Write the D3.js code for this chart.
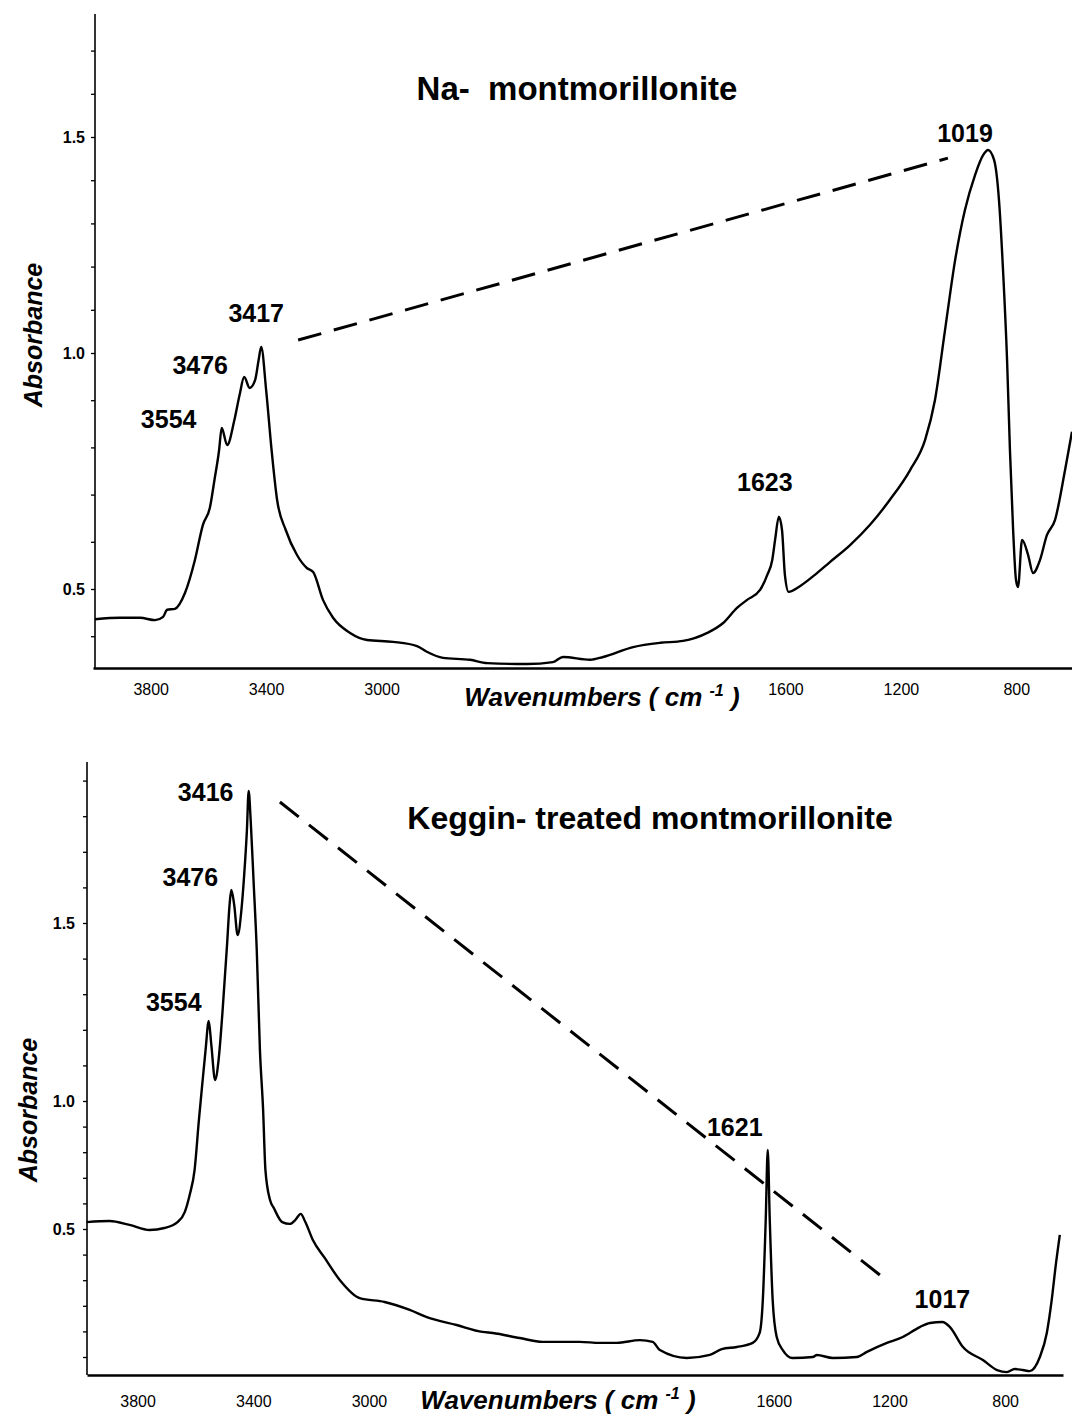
<!DOCTYPE html>
<html>
<head>
<meta charset="utf-8">
<script src="https://cdn.jsdelivr.net/npm/d3@7"></script>
<style>
  html, body { margin: 0; padding: 0; background: #fff; }
  svg { display: block; }
  text { font-family: "Liberation Sans", Arial, Helvetica, sans-serif; fill: #000; }
</style>
</head>
<body>
<svg id="chart" width="1072" height="1417"></svg>
<script>
// ---- axis ticks ----
const xTickValues = [3800, 3400, 3000, 1600, 1200, 800];   // cm-1
const yTickValues = [0.5, 1.0, 1.5];                         // absorbance

// ---- Na-montmorillonite spectrum ----
const naWavenumber = [3993, 3906, 3837, 3785, 3757, 3743, 3716, 3681, 3647, 3619, 3595, 3579, 3563, 3554, 3535, 3510, 3492, 3476, 3457, 3438, 3426, 3417, 3400, 3381, 3362, 3332, 3293, 3258, 3237, 3203, 3168, 3109, 3050, 2960, 2877, 2843, 2787, 2693, 2634, 2496, 2406, 2371, 2277, 2232, 2128, 2034, 1955, 1871, 1816, 1768, 1733, 1688, 1663, 1646, 1636, 1623, 1612, 1602, 1589, 1550, 1498, 1446, 1376, 1307, 1238, 1168, 1116, 1082, 1047, 1012, 978, 943, 915, 898, 877, 860, 846, 832, 822, 811, 801, 794, 780, 759, 742, 718, 694, 666, 631, 607];
const naAbsorbance = [0.436, 0.439, 0.439, 0.434, 0.441, 0.456, 0.458, 0.492, 0.561, 0.636, 0.672, 0.731, 0.794, 0.841, 0.805, 0.858, 0.911, 0.949, 0.926, 0.943, 0.985, 1.014, 0.922, 0.794, 0.689, 0.625, 0.572, 0.544, 0.536, 0.477, 0.439, 0.407, 0.392, 0.388, 0.379, 0.367, 0.354, 0.350, 0.343, 0.341, 0.345, 0.356, 0.350, 0.356, 0.377, 0.386, 0.390, 0.407, 0.428, 0.460, 0.477, 0.498, 0.530, 0.561, 0.604, 0.653, 0.625, 0.530, 0.494, 0.506, 0.530, 0.557, 0.593, 0.636, 0.689, 0.752, 0.816, 0.900, 1.053, 1.215, 1.331, 1.412, 1.458, 1.470, 1.447, 1.354, 1.192, 0.985, 0.794, 0.625, 0.519, 0.504, 0.604, 0.572, 0.534, 0.561, 0.614, 0.646, 0.752, 0.833];
const naPeaks = [3554, 3476, 3417, 1623, 1019];
const naTrend = [[3289, 1.030], [1037, 1.451]];

// ---- Keggin-treated montmorillonite spectrum ----
const kgWavenumber = [3976, 3897, 3828, 3759, 3707, 3662, 3637, 3620, 3603, 3588, 3575, 3565, 3554, 3545, 3532, 3520, 3507, 3491, 3482, 3476, 3466, 3454, 3441, 3432, 3422, 3416, 3409, 3399, 3388, 3377, 3366, 3358, 3342, 3329, 3300, 3274, 3255, 3236, 3220, 3194, 3153, 3101, 3032, 2946, 2859, 2800, 2697, 2607, 2572, 2479, 2399, 2340, 2271, 2201, 2143, 2063, 2019, 1994, 1901, 1821, 1780, 1728, 1673, 1649, 1638, 1628, 1621, 1614, 1604, 1590, 1569, 1535, 1465, 1451, 1396, 1313, 1278, 1209, 1154, 1095, 1060, 1017, 991, 946, 877, 828, 794, 767, 739, 715, 680, 656, 639, 625, 611];
const kgAbsorbance = [0.527, 0.531, 0.516, 0.496, 0.504, 0.527, 0.566, 0.633, 0.730, 0.926, 1.059, 1.143, 1.225, 1.157, 1.059, 1.115, 1.244, 1.435, 1.551, 1.593, 1.551, 1.466, 1.537, 1.629, 1.761, 1.871, 1.789, 1.618, 1.424, 1.143, 0.965, 0.730, 0.613, 0.582, 0.527, 0.520, 0.535, 0.559, 0.527, 0.457, 0.387, 0.301, 0.230, 0.215, 0.184, 0.156, 0.125, 0.098, 0.094, 0.074, 0.059, 0.059, 0.059, 0.055, 0.055, 0.066, 0.059, 0.027, -0.004, 0.008, 0.031, 0.039, 0.055, 0.094, 0.223, 0.535, 0.809, 0.535, 0.223, 0.078, 0.027, -0.004, 0.000, 0.008, -0.004, 0.000, 0.020, 0.055, 0.078, 0.117, 0.133, 0.137, 0.117, 0.039, -0.012, -0.051, -0.059, -0.047, -0.051, -0.055, 0.000, 0.094, 0.223, 0.359, 0.477];
const kgPeaks = [3554, 3476, 3416, 1621, 1017];
const kgTrend = [[3308, 1.840], [1198, 0.289]];

// ---- panel layout ----
const panels = [
  {
    title: "Na-  montmorillonite", titleX: 577, titleY: 88, titleSize: 33,
    wn: naWavenumber, ab: naAbsorbance, peaks: naPeaks, trend: naTrend,
    peakOffsets: [[-53, -9], [-44, -12], [-5, -34], [-14, -35], [-23, -17]],
    xDomain: [4000, 600], xRange: [93, 1074],
    yRange: [589, 353, 137],
    axisX: 95, top: 14, bottom: 668,
    xLabelPad: 16, yLabelPad: 10,
    ytitleX: 33, ytitleY: 335,
    xtitleX: 602, xtitleY: 706
  },
  {
    title: "Keggin- treated montmorillonite", titleX: 650, titleY: 818, titleSize: 32,
    wn: kgWavenumber, ab: kgAbsorbance, peaks: kgPeaks, trend: kgTrend,
    peakOffsets: [[-35, -19], [-41, -13], [-43, 1], [-33, -23], [0, -23]],
    xDomain: [3975, 600], xRange: [87, 1063],
    yRange: [1229, 1101, 923],
    axisX: 87, top: 762, bottom: 1375,
    xLabelPad: 21, yLabelPad: 12,
    ytitleX: 28, ytitleY: 1110,
    xtitleX: 558, xtitleY: 1409
  }
];

const svg = d3.select("#chart");

panels.forEach(p => {
  const g = svg.append("g");

  const x = d3.scaleLinear().domain(p.xDomain).range(p.xRange);
  // absorbance scale pinned to the printed tick marks
  const y = d3.scaleLinear().domain(yTickValues).range(p.yRange);

  // y axis: line, minor ticks, labelled ticks
  g.append("line")
    .attr("x1", p.axisX).attr("x2", p.axisX)
    .attr("y1", p.top).attr("y2", p.bottom)
    .attr("stroke", "#000").attr("stroke-width", 1.6);

  const lo = y.invert(p.bottom), hi = y.invert(p.top);
  const minor = d3.range(Math.ceil(lo * 10 + 1e-6), Math.floor(hi * 10 - 1e-6) + 1).map(k => k / 10);
  g.append("g")
    .attr("transform", `translate(${p.axisX},0)`)
    .call(d3.axisLeft(y).tickValues(minor).tickSize(4).tickFormat(""))
    .call(s => s.select(".domain").remove())
    .call(s => s.selectAll("line").attr("stroke-width", 1.3));

  g.append("g")
    .attr("transform", `translate(${p.axisX},0)`)
    .call(d3.axisLeft(y).tickValues(yTickValues).tickSize(0).tickPadding(p.yLabelPad).tickFormat(d3.format(".1f")))
    .call(s => s.select(".domain").remove())
    .call(s => s.selectAll("text")
      .style("font-family", '"Liberation Sans", Arial, sans-serif')
      .style("font-size", "16px").style("font-weight", "bold").attr("fill", "#000"));

  // x axis
  g.append("g")
    .attr("transform", `translate(0,${p.bottom})`)
    .call(d3.axisBottom(x).tickValues(xTickValues).tickSize(0).tickSizeOuter(0).tickPadding(p.xLabelPad).tickFormat(d3.format("d")))
    .call(s => s.select(".domain").attr("stroke", "#000").attr("stroke-width", 2.6))
    .call(s => s.selectAll("text")
      .style("font-family", '"Liberation Sans", Arial, sans-serif')
      .style("font-size", "16px").attr("fill", "#000"));

  // axis titles
  g.append("text")
    .attr("transform", `translate(${p.ytitleX},${p.ytitleY}) rotate(-90)`)
    .attr("text-anchor", "middle").attr("dominant-baseline", "central")
    .style("font-size", "25px").style("font-weight", "bold").style("font-style", "italic")
    .text("Absorbance");

  const xt = g.append("text")
    .attr("x", p.xtitleX).attr("y", p.xtitleY)
    .attr("text-anchor", "middle")
    .style("font-size", "26px").style("font-weight", "bold").style("font-style", "italic");
  xt.append("tspan").text("Wavenumbers ( cm ");
  xt.append("tspan").attr("dy", -10).style("font-size", "16px").text("-1");
  xt.append("tspan").attr("dy", 10).text(" )");

  // panel title
  g.append("text")
    .attr("x", p.titleX).attr("y", p.titleY)
    .attr("text-anchor", "middle").attr("dominant-baseline", "central")
    .style("white-space", "pre")
    .style("font-size", p.titleSize + "px").style("font-weight", "bold")
    .text(p.title);

  // dashed guide between the O-H and Si-O bands
  g.append("line")
    .attr("x1", x(p.trend[0][0])).attr("y1", y(p.trend[0][1]))
    .attr("x2", x(p.trend[1][0])).attr("y2", y(p.trend[1][1]))
    .attr("stroke", "#000").attr("stroke-width", 3)
    .attr("stroke-dasharray", "24 13");

  // spectrum
  const pts = p.wn.map((w, i) => [w, p.ab[i]]);
  g.append("path")
    .datum(pts)
    .attr("fill", "none").attr("stroke", "#000")
    .attr("stroke-width", 2.4).attr("stroke-linejoin", "round")
    .attr("d", d3.line().x(d => x(d[0])).y(d => y(d[1])).curve(d3.curveMonotoneX));

  // peak labels: anchored on the labelled point, or on the band maximum nearby
  p.peaks.forEach((pk, k) => {
    let top = pts.find(d => d[0] === pk);
    if (!top) {
      const near = pts.filter(d => Math.abs(d[0] - pk) <= 130);
      top = near.reduce((a, b) => (b[1] > a[1] ? b : a));
    }
    g.append("text")
      .attr("x", x(top[0]) + p.peakOffsets[k][0])
      .attr("y", y(top[1]) + p.peakOffsets[k][1])
      .attr("text-anchor", "middle").attr("dominant-baseline", "central")
      .style("font-size", "25px").style("font-weight", "bold")
      .text(pk);
  });
});
</script>
</body>
</html>
